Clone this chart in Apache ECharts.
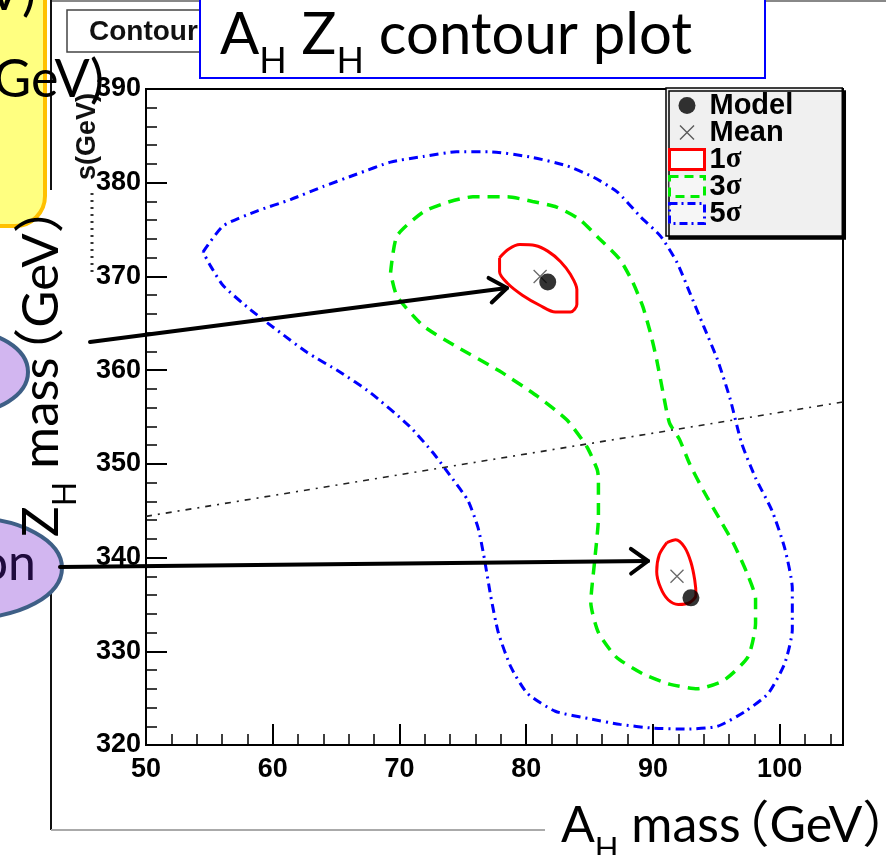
<!DOCTYPE html>
<html>
<head>
<meta charset="utf-8">
<script src="https://cdn.jsdelivr.net/npm/echarts@6/dist/echarts.min.js"></script>
<style>
  html, body { margin: 0; padding: 0; background: #fff; }
  #chart { width: 886px; height: 855px; }
</style>
</head>
<body>
<div id="chart"></div>
<script>
// axis ranges (GeV)
const xRange = [50, 105];
const yRange = [320, 390];
const majorStep = 10;
const minorStep = 2;

// contour lines: [A_H mass, Z_H mass]
const sigma1Upper = [
  [77.9, 372.0], [78.6, 372.9], [79.5, 373.4], [80.7, 373.3], [81.7, 372.7],
  [82.7, 371.6], [83.5, 370.2], [84.0, 368.6], [84.0, 367.0], [83.5, 366.2],
  [82.3, 366.2], [81.1, 366.9], [79.7, 368.0], [78.5, 369.3], [77.9, 370.5]
];
const sigma1Lower = [
  [91.1, 341.6], [91.8, 341.9], [92.5, 341.1], [93.0, 339.5], [93.3, 337.6],
  [93.4, 336.0], [92.9, 335.2], [92.0, 335.0], [91.2, 335.5], [90.6, 336.8],
  [90.3, 338.5], [90.5, 340.3]
];
const sigma3 = [
  [69.3, 370.4], [69.8, 374.3], [71.9, 376.9], [74.0, 378.0], [75.8, 378.5],
  [78.5, 378.5], [80.5, 378.0], [82.4, 377.4], [84.2, 376.1], [85.8, 374.0],
  [87.4, 371.8], [88.4, 369.4], [89.2, 366.8], [89.8, 364.0], [90.3, 361.1],
  [90.8, 357.6], [91.3, 354.4], [92.1, 352.6], [92.9, 350.0], [94.0, 347.1],
  [95.4, 343.8], [96.4, 341.4], [97.5, 338.1], [98.1, 335.6], [98.1, 333.0],
  [97.5, 329.4], [95.6, 326.9], [93.5, 326.0], [91.3, 326.5], [89.2, 327.6],
  [87.1, 329.4], [85.7, 332.0], [85.1, 335.2], [85.4, 339.6], [85.7, 344.3],
  [85.7, 348.5], [85.6, 349.4], [84.8, 351.8], [83.2, 354.7], [80.9, 357.2],
  [77.9, 359.9], [74.5, 362.5], [71.9, 364.7], [69.8, 367.9]
];
const sigma5 = [
  [54.5, 372.6], [56.1, 375.4], [58.8, 377.0], [61.4, 378.2], [64.0, 379.6],
  [66.6, 380.9], [69.3, 382.2], [71.9, 382.8], [74.5, 383.3], [77.1, 383.3],
  [80.5, 382.7], [83.2, 381.8], [85.3, 380.6], [87.2, 379.0], [89.0, 376.4],
  [90.6, 374.3], [91.9, 371.5], [92.9, 368.3], [94.0, 364.7], [95.1, 361.1],
  [96.1, 356.9], [97.0, 352.2], [98.1, 348.5], [99.4, 345.0], [100.4, 341.0],
  [101.0, 336.7], [101.0, 332.3], [100.4, 328.7], [99.1, 325.5], [97.3, 323.6],
  [95.1, 322.0], [92.7, 321.7], [90.0, 321.8], [87.4, 322.2], [85.0, 322.8],
  [82.3, 323.6], [80.1, 325.5], [78.8, 328.3], [77.8, 332.0], [77.2, 335.9],
  [76.7, 339.9], [76.2, 343.2], [75.4, 346.1], [74.3, 348.2], [72.7, 351.1],
  [70.8, 354.0], [67.7, 357.6], [65.3, 359.8], [62.7, 361.9], [60.6, 364.0],
  [58.2, 366.5], [56.1, 369.0], [55.1, 371.1]
];
const diagonal = [[50, 344.4], [105, 356.6]];
const modelPoints = [[81.7, 369.4], [93.0, 335.7]];
const meanPoints = [[81.1, 370.0], [91.9, 338.0]];

const closeLoop = pts => pts.concat([pts[0]]);

const SLIDE_FONT = 'Lato, "Noto Sans CJK SC", sans-serif';
const ROOT_FONT = '"Liberation Sans", Arial, sans-serif';
const crossPath = 'path://M0,0L10,10M10,0L0,10';

// text with subscripts, laid out with measured widths
// parts: [text, isSub, shift in em before the part]
const mctx = document.createElement('canvas').getContext('2d');
function subText(parts, size, z, color) {
  let x = 0;
  const children = [];
  parts.forEach(([s, sub, dx]) => {
    const fs = sub ? Math.round(size * 0.62) : size;
    const font = fs + 'px ' + SLIDE_FONT;
    x += (dx || 0) * size;
    children.push({
      type: 'text', z: z, x: x, y: sub ? size * 0.46 : 0,
      style: { text: s, font: font, fill: color || '#000', align: 'left', verticalAlign: 'middle' }
    });
    mctx.font = font;
    x += mctx.measureText(s).width;
  });
  return children;
}

function arrow(x1, y1, x2, y2) {
  const len = Math.hypot(x2 - x1, y2 - y1);
  const dx = (x2 - x1) / len, dy = (y2 - y1) / len;
  const a = 36 * Math.PI / 180, h = 21;
  const p1 = [x2 - h * (Math.cos(a) * dx - Math.sin(a) * dy), y2 - h * (Math.sin(a) * dx + Math.cos(a) * dy)];
  const p2 = [x2 - h * (Math.cos(-a) * dx - Math.sin(-a) * dy), y2 - h * (Math.sin(-a) * dx + Math.cos(-a) * dy)];
  const st = { stroke: '#000', lineWidth: 4, lineCap: 'round', lineJoin: 'round', fill: null };
  return [
    { type: 'line', z: 20, shape: { x1: x1, y1: y1, x2: x2, y2: y2 }, style: st },
    { type: 'polyline', z: 20, shape: { points: [p1, [x2, y2], p2] }, style: st }
  ];
}

const chart = echarts.init(document.getElementById('chart'));

const axisFont = { color: '#000', fontFamily: ROOT_FONT, fontWeight: 'bold', fontSize: 27 };

const option = {
  animation: false,
  grid: { left: 146, top: 89, width: 697, height: 656, show: true, borderColor: '#000', borderWidth: 2 },
  xAxis: [
    {
      type: 'value', min: xRange[0], max: xRange[1], interval: majorStep, position: 'bottom',
      axisLine: { onZero: false, lineStyle: { color: '#000', width: 2 } },
      axisTick: { inside: true, length: 21, lineStyle: { color: '#000', width: 2 } },
      axisLabel: Object.assign({ showMaxLabel: false, margin: 11 }, axisFont),
      splitLine: { show: false }
    },
    {
      type: 'value', min: xRange[0], max: xRange[1], interval: minorStep, position: 'bottom',
      axisLine: { show: false, onZero: false },
      axisTick: { inside: true, length: 11, lineStyle: { color: '#000', width: 1.5 } },
      axisLabel: { show: false }, splitLine: { show: false }
    }
  ],
  yAxis: [
    {
      type: 'value', min: yRange[0], max: yRange[1], interval: majorStep, position: 'left',
      axisLine: { show: true, onZero: false, lineStyle: { color: '#000', width: 2 } },
      axisTick: { show: true, inside: true, length: 21, lineStyle: { color: '#000', width: 2 } },
      axisLabel: Object.assign({ margin: 5 }, axisFont),
      splitLine: { show: false }
    },
    {
      type: 'value', min: yRange[0], max: yRange[1], interval: minorStep, position: 'left',
      axisLine: { show: false, onZero: false },
      axisTick: { show: true, inside: true, length: 11, lineStyle: { color: '#000', width: 1.5 } },
      axisLabel: { show: false }, splitLine: { show: false }
    }
  ],
  legend: {
    left: 666, top: 88, orient: 'vertical',
    itemWidth: 35, itemHeight: 20, itemGap: -2,
    padding: [3, 49, 8, 2],
    backgroundColor: '#f0f0f0', borderColor: '#000', borderWidth: 1.5,
    shadowColor: '#000', shadowBlur: 0, shadowOffsetX: 3, shadowOffsetY: 3,
    selectedMode: false,
    textStyle: {
      color: '#000', fontFamily: ROOT_FONT, fontWeight: 'bold', fontSize: 29,
      rich: {
        b: { color: '#000', fontFamily: ROOT_FONT, fontWeight: 'bold', fontSize: 29 },
        g: { color: '#000', fontFamily: '"Liberation Serif", serif', fontSize: 29 }
      }
    },
    formatter: name => name.indexOf('σ') > 0 ? '{b|' + name[0] + '}{g|σ}' : '{b|' + name + '}',
    data: [
      { name: 'Model', icon: 'path://M0,0M20,20M18.5,10A8.5,8.5,0,1,1,1.5,10A8.5,8.5,0,1,1,18.5,10Z', itemStyle: { color: '#000' } },
      { name: 'Mean', icon: 'path://M0,0M20,20M3,3L17,17M17,3L3,17', itemStyle: { color: 'transparent', borderColor: '#333', borderWidth: 1.4 } },
      { name: '1σ', icon: 'rect', itemStyle: { color: '#fff', borderColor: '#ff0000', borderWidth: 3 } },
      { name: '3σ', icon: 'rect', itemStyle: { color: '#f6f6f6', borderColor: '#00ee00', borderWidth: 3, borderType: [9, 6] } },
      { name: '5σ', icon: 'rect', itemStyle: { color: '#f6f6f6', borderColor: '#0000ff', borderWidth: 3, borderType: [8, 4, 2, 4] } }
    ]
  },
  series: [
    {
      name: '5σ', type: 'line', data: closeLoop(sigma5), symbol: 'none', smooth: 0.2, z: 2,
      lineStyle: { color: '#0000ff', width: 3, type: [9, 5, 2, 5] }
    },
    {
      name: '3σ', type: 'line', data: closeLoop(sigma3), symbol: 'none', smooth: 0.2, z: 2,
      lineStyle: { color: '#00ee00', width: 3.5, type: [12, 8] }
    },
    {
      name: '1σ', type: 'line', data: closeLoop(sigma1Upper), symbol: 'none', smooth: 0.3, z: 3,
      lineStyle: { color: '#ff0000', width: 3 }
    },
    {
      name: '1σ', type: 'line', data: closeLoop(sigma1Lower), symbol: 'none', smooth: 0.3, z: 3,
      lineStyle: { color: '#ff0000', width: 3 }
    },
    {
      name: 'line', type: 'line', data: diagonal, symbol: 'none', z: 2,
      lineStyle: { color: '#222', width: 1.6, type: [6, 6, 2, 6] }
    },
    {
      name: 'Mean', type: 'scatter', data: meanPoints, symbol: crossPath, symbolSize: 13, z: 5,
      itemStyle: { color: 'transparent', borderColor: '#444', borderWidth: 1.3 }
    },
    {
      name: 'Model', type: 'scatter', data: modelPoints, symbol: 'circle', symbolSize: 17, z: 6,
      itemStyle: { color: '#000' }
    }
  ],
  graphic: [
    // ROOT canvas edges
    { type: 'line', z: 10, shape: { x1: 51, y1: 1, x2: 886, y2: 1 }, style: { stroke: '#888', lineWidth: 2 } },
    { type: 'line', z: 10, shape: { x1: 51, y1: 0, x2: 51, y2: 190 }, style: { stroke: '#111', lineWidth: 2 } },
    { type: 'line', z: 10, shape: { x1: 51, y1: 545, x2: 51, y2: 830 }, style: { stroke: '#111', lineWidth: 2 } },
    { type: 'line', z: 10, shape: { x1: 51, y1: 830, x2: 545, y2: 830 }, style: { stroke: '#aaa', lineWidth: 2 } },
    // ROOT title box
    { type: 'rect', z: 10, shape: { x: 67, y: 10, width: 160, height: 42 }, style: { fill: '#fff', stroke: '#444', lineWidth: 1.5 } },
    { type: 'text', z: 11, x: 89, y: 32, style: { text: 'Contour', font: 'bold 28px ' + ROOT_FONT, fill: '#111', align: 'left', verticalAlign: 'middle' } },
    // ROOT y title remnant
    { type: 'text', z: 10, x: 88, y: 93, rotation: Math.PI / 2, style: { text: 's(GeV)', font: 'bold 27px ' + ROOT_FONT, fill: '#111', align: 'right', verticalAlign: 'middle' } },
    { type: 'line', z: 10, shape: { x1: 92, y1: 193, x2: 92, y2: 272 }, style: { stroke: '#333', lineWidth: 3, lineDash: [2, 5] } },
    // slide title
    { type: 'rect', z: 12, shape: { x: 200, y: -3, width: 565, height: 81 }, style: { fill: '#fff', stroke: '#0000ff', lineWidth: 2 } },
    { type: 'group', x: 220, y: 35, children: subText([['A', 0], ['H', 1], [' Z', 0], ['H', 1], [' contour plot', 0]], 58, 13) },
    // yellow note box
    { type: 'rect', z: 12, shape: { x: -40, y: -40, width: 85, height: 266, r: 30 }, style: { fill: '#ffff80', stroke: '#ffc000', lineWidth: 4 } },
    { type: 'text', z: 13, x: 36, y: -7, style: { text: '(GeV)', font: '52px ' + SLIDE_FONT, fill: '#000', align: 'right', verticalAlign: 'middle' } },
    { type: 'text', z: 13, x: 104, y: 80, style: { text: '(GeV)', font: '52px ' + SLIDE_FONT, fill: '#000', align: 'right', verticalAlign: 'middle' } },
    // purple callouts
    { type: 'ellipse', z: 12, shape: { cx: -40, cy: 372, rx: 68, ry: 42 }, style: { fill: '#d2b6f0', stroke: '#3e5f86', lineWidth: 4 } },
    { type: 'ellipse', z: 12, shape: { cx: -30, cy: 568, rx: 92, ry: 50 }, style: { fill: '#d2b6f0', stroke: '#3e5f86', lineWidth: 4 } },
    { type: 'text', z: 13, x: 36, y: 564, style: { text: 'on', font: '50px ' + SLIDE_FONT, fill: '#1f0a3d', align: 'right', verticalAlign: 'middle' } },
    // arrows
    ...arrow(90, 342, 507, 288),
    ...arrow(60, 567, 648, 561),
    // slide axis titles
    { type: 'group', x: 42, y: 537, rotation: Math.PI / 2, children: subText([['Z', 0], ['H', 1], [' mass', 0], ['（GeV）', 0, -0.42]], 51, 13) },
    { type: 'group', x: 561, y: 826, children: subText([['A', 0], ['H', 1], [' mass', 0], ['（GeV）', 0, -0.42]], 50, 13) }
  ]
};

chart.setOption(option);
</script>
</body>
</html>
